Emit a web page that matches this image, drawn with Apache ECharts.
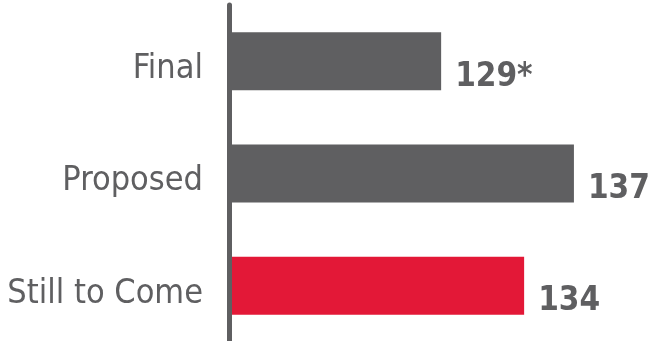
<!DOCTYPE html>
<html>
<head>
<meta charset="utf-8">
<script src="https://cdn.jsdelivr.net/npm/echarts@6/dist/echarts.min.js"></script>
<style>
  html, body { margin: 0; padding: 0; background: #fff; }
  #chart { width: 657px; height: 341px; }
</style>
</head>
<body>
<div id="chart"></div>
<script>
const categories = ['Final', 'Proposed', 'Still to Come']
const values = [129, 137, 134]
const valueLabels = ['129*', '137', '134']
const barColors = ['#5f5f61', '#5f5f61', '#e31837']

const textGray = '#5f5f61'
const font = '"DejaVu Sans Condensed", "Liberation Sans Narrow", sans-serif'

const chart = echarts.init(document.getElementById('chart'))

chart.setOption({
  animation: false,
  grid: { left: 232, right: 20, top: 5, bottom: -1, outerBoundsMode: 'none', containLabel: false },
  xAxis: {
    type: 'value',
    // bars in the original are not drawn to scale; this range fits them best
    min: 116.4,
    max: 140.8,
    show: false
  },
  yAxis: {
    type: 'category',
    data: categories,
    inverse: true,
    offset: 3,
    axisLine: { show: true, lineStyle: { color: '#5f5f61', width: 5 } },
    axisTick: { show: false },
    axisLabel: {
      color: textGray,
      fontFamily: font,
      fontSize: 34,
      margin: 26,
      verticalAlign: 'top',
      lineHeight: 16
    }
  },
  series: [{
    type: 'bar',
    barWidth: 58,
    data: values.map((v, i) => ({ value: v, itemStyle: { color: barColors[i] } })),
    label: {
      show: true,
      position: 'right',
      distance: 14,
      offset: [0, 16],
      formatter: p => valueLabels[p.dataIndex],
      color: textGray,
      fontFamily: font,
      fontWeight: 'bold',
      fontSize: 33
    }
  }]
})
</script>
</body>
</html>
